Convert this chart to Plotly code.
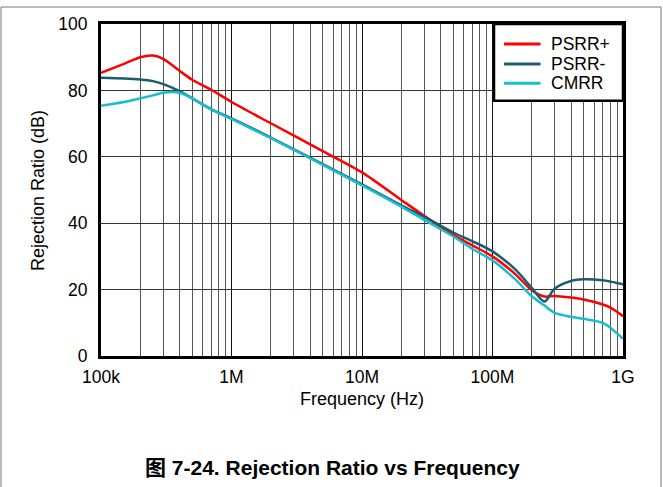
import plotly.graph_objects as go

# Frequency points (Hz) and rejection ratios (dB)
freq_hz = [1e5, 1.5e5, 2e5, 2.5e5, 3e5, 4e5, 5e5, 7e5, 1e6, 2e6, 5e6, 1e7, 2e7, 3e7,
           5e7, 7e7, 1e8, 1.5e8, 2e8, 2.5e8, 3e8, 4e8, 5e8, 7e8, 8e8, 9e8, 1e9]
psrr_pos = [85.3, 88.0, 90.0, 90.5, 89.5, 85.9, 83.2, 80.2, 76.5, 70.1, 61.7, 55.3, 47.0, 42.2,
            36.5, 33.3, 30.0, 24.6, 19.8, 17.9, 18.1, 17.6, 17.0, 15.5, 14.6, 13.3, 12.0]
psrr_neg = [83.8, 83.6, 83.3, 82.8, 81.9, 79.8, 77.6, 74.3, 71.6, 65.8, 57.8, 51.7, 45.4, 41.9,
            37.2, 34.6, 31.5, 26.0, 20.5, 16.4, 20.3, 22.6, 23.1, 22.8, 22.4, 22.0, 21.6]
cmrr = [75.4, 76.5, 77.6, 78.5, 79.3, 79.3, 77.6, 74.3, 71.4, 65.6, 57.6, 51.4, 45.0, 41.0,
        36.0, 32.3, 28.8, 23.0, 18.0, 15.2, 13.0, 11.8, 11.2, 10.0, 8.5, 6.8, 5.2]

series_names = ["PSRR+", "PSRR-", "CMRR"]
series_colors = ["#FF0000", "#1D5B6F", "#19BDD0"]

x_tick_vals = [1e5, 1e6, 1e7, 1e8, 1e9]
x_tick_text = ["100k", "1M", "10M", "100M", "1G"]
x_minor_vals = [m * 10 ** d for d in range(5, 9) for m in range(2, 10)]
y_tick_vals = [0, 20, 40, 60, 80, 100]

FONT = "Liberation Sans, Arial, sans-serif"
TICK_SIZE = 17.5

fig = go.Figure()
for name, vals, color in zip(series_names, [psrr_pos, psrr_neg, cmrr], series_colors):
    fig.add_trace(go.Scatter(
        x=freq_hz, y=vals, name=name, mode="lines", showlegend=False,
        line=dict(color=color, width=2.5, shape="spline", smoothing=0.8),
    ))

# Legend box drawn in paper coordinates (top-right corner of the plot)
legend_shapes = [
    dict(type="rect", xref="paper", yref="paper", x0=0.7529, x1=1.0, y0=0.7689, y1=1.0,
         fillcolor="white", line=dict(color="black", width=2.5), layer="above"),
]
legend_annotations = []
legend_rows_y = [0.9398, 0.8795, 0.8213]
for name, color, ly in zip(series_names, series_colors, legend_rows_y):
    legend_shapes.append(dict(type="line", xref="paper", yref="paper", x0=0.7720, x1=0.8420,
                              y0=ly, y1=ly, line=dict(color=color, width=3), layer="above"))
    legend_annotations.append(dict(text=name, x=0.8582, y=ly, xref="paper", yref="paper",
                                   xanchor="left", yanchor="middle", showarrow=False,
                                   font=dict(family=FONT, size=TICK_SIZE, color="black")))

frame_line = dict(color="#777", width=1)
fig.update_layout(
    width=663, height=487,
    margin=dict(l=101, r=40, t=24, b=131),
    paper_bgcolor="white", plot_bgcolor="white",
    font=dict(family=FONT, color="black", size=TICK_SIZE),
    showlegend=False,
    xaxis=dict(
        type="log", range=[5, 9],
        tickvals=x_tick_vals, ticktext=x_tick_text,
        ticks="", ticklabelstandoff=3,
        showgrid=True, gridcolor="#111", gridwidth=1,
        minor=dict(tickvals=x_minor_vals, showgrid=True, gridcolor="#555", gridwidth=1, ticks=""),
        showline=True, linecolor="black", linewidth=3, mirror=True,
        zeroline=False,
        tickfont=dict(family=FONT, size=TICK_SIZE),
    ),
    yaxis=dict(
        range=[0, 100], tickvals=y_tick_vals,
        ticks="", ticklabelstandoff=7,
        showgrid=True, gridcolor="#333", gridwidth=1,
        showline=True, linecolor="black", linewidth=3, mirror=True,
        zeroline=False,
        tickfont=dict(family=FONT, size=TICK_SIZE),
    ),
    annotations=legend_annotations + [
        dict(text="Frequency (Hz)", x=0.5, y=-0.1295, xref="paper", yref="paper",
             xanchor="center", yanchor="middle", showarrow=False,
             font=dict(family=FONT, size=18)),
        dict(text="Rejection Ratio (dB)", x=-0.1207, y=0.5, xref="paper", yref="paper",
             xanchor="center", yanchor="middle", showarrow=False, textangle=-90,
             font=dict(family=FONT, size=18)),
        dict(text="<b>图 7-24. Rejection Ratio vs Frequency</b>", x=0.4444, y=-0.337,
             xref="paper", yref="paper", xanchor="center", yanchor="middle", showarrow=False,
             font=dict(family="Liberation Sans, Noto Sans CJK SC, sans-serif", size=21)),
    ],
    shapes=legend_shapes + [
        # outer page frame
        dict(type="line", xref="paper", yref="paper", x0=-0.1916, x1=1.0728, y0=1.0512, y1=1.0512,
             line=frame_line),
        dict(type="line", xref="paper", yref="paper", x0=-0.1916, x1=-0.1916, y0=1.0512, y1=-0.40,
             line=frame_line),
        dict(type="line", xref="paper", yref="paper", x0=1.0728, x1=1.0728, y0=1.0512, y1=-0.40,
             line=frame_line),
    ],
)

fig.write_html("out.html")
